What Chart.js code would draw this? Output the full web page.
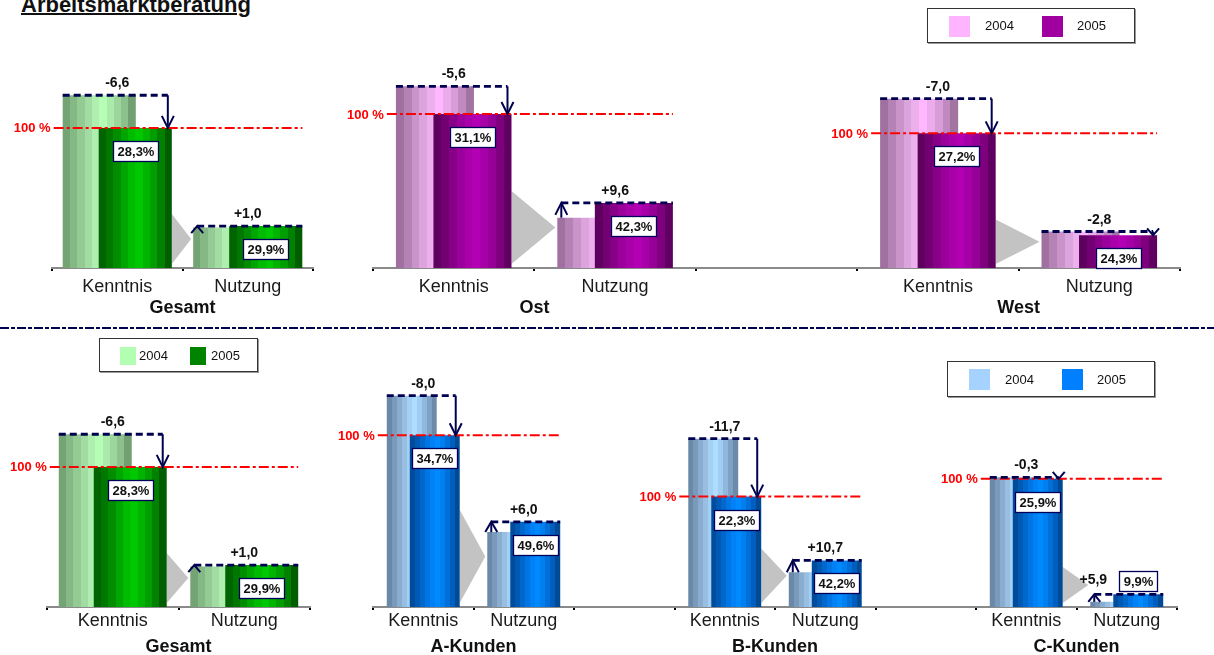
<!DOCTYPE html>
<html lang="de">
<head>
<meta charset="utf-8">
<title>Arbeitsmarktberatung</title>
<script src="https://cdn.jsdelivr.net/npm/chart.js@4.4.1/dist/chart.umd.min.js"></script>
<style>
  html, body { margin: 0; padding: 0; background: #fff; }
  body { width: 1214px; height: 655px; position: relative; overflow: hidden;
         font-family: "Liberation Sans", Arial, sans-serif; color: #111; }
  .box { position: absolute; }
  .box canvas { display: block; }
  h1 { position: absolute; left: 21px; top: -6px; margin: 0; font-size: 22px; line-height: 22px;
       font-weight: bold; text-decoration: underline; text-decoration-thickness: 2px; white-space: nowrap; }
  .sep { position: absolute; left: 0; top: 327px; width: 1214px; height: 2px;
         background: repeating-linear-gradient(90deg, #000050 0 9px, transparent 9px 11px, #000050 11px 15px, transparent 15px 17px); }
  .legend { position: absolute; box-sizing: border-box; border: 1px solid #333; background: #fff;
            box-shadow: 1px 1px 0 #9a9a9a; z-index: 5; }
  .legend .sw { position: absolute; }
  .legend .t { position: absolute; font-size: 13px; line-height: 13px; color: #111; }
</style>
</head>
<body>
<h1>Arbeitsmarktberatung</h1>

<div class="legend" style="left:927px;top:8px;width:208px;height:35px;">
  <span class="sw" style="left:21px;top:7px;width:21px;height:21px;background:#ffb4ff"></span>
  <span class="t" style="left:57px;top:10px">2004</span>
  <span class="sw" style="left:114px;top:7px;width:21px;height:21px;background:#a000a0"></span>
  <span class="t" style="left:149px;top:10px">2005</span>
</div>

<div class="legend" style="left:99px;top:338px;width:159px;height:34px;">
  <span class="sw" style="left:20px;top:8px;width:16px;height:18px;background:#b2ffb2"></span>
  <span class="t" style="left:39px;top:10px">2004</span>
  <span class="sw" style="left:90px;top:8px;width:16px;height:18px;background:#008400"></span>
  <span class="t" style="left:111px;top:10px">2005</span>
</div>

<div class="legend" style="left:947px;top:361px;width:208px;height:36px;">
  <span class="sw" style="left:21px;top:7px;width:21px;height:21px;background:#a6d2ff"></span>
  <span class="t" style="left:57px;top:11px">2004</span>
  <span class="sw" style="left:114px;top:7px;width:21px;height:21px;background:#0080ff"></span>
  <span class="t" style="left:149px;top:11px">2005</span>
</div>

<div class="sep"></div>

<div class="box" style="left:0;top:40px"><canvas id="cRegGesamt" width="330" height="290"></canvas></div>
<div class="box" style="left:330px;top:40px"><canvas id="cRegOstWest" width="884" height="290"></canvas></div>
<div class="box" style="left:0;top:335px"><canvas id="cKdGesamt" width="330" height="320"></canvas></div>
<div class="box" style="left:320px;top:335px"><canvas id="cKdABC" width="894" height="320"></canvas></div>

<script>
// ---- Werte (Anteile in %, Veraenderung 2004 -> 2005 in Prozentpunkten) ----
const regionen = ['Gesamt', 'Ost', 'West'];
const kenntnis2005Regionen = [28.3, 31.1, 27.2];
const kenntnisDeltaRegionen = [-6.6, -5.6, -7.0];
const nutzung2005Regionen = [29.9, 42.3, 24.3];   // Nutzung als Anteil der Kenntnis
const nutzungDeltaRegionen = [1.0, 9.6, -2.8];

const kunden = ['Gesamt', 'A-Kunden', 'B-Kunden', 'C-Kunden'];
const kenntnis2005Kunden = [28.3, 34.7, 22.3, 25.9];
const kenntnisDeltaKunden = [-6.6, -8.0, -11.7, -0.3];
const nutzung2005Kunden = [29.9, 49.6, 42.2, 9.9];
const nutzungDeltaKunden = [1.0, 6.0, 10.7, 5.9];

const kategorien = ['Kenntnis', 'Nutzung'];
const jahre = ['2004', '2005'];
const Y_MAX = 45;

// ---- Farben: streifige Zylinder-Schattierung von links nach rechts ----
const bandsGreen = [
  ['#74a474', '#84b884', '#94ca94', '#a2dca2', '#aeeeae', '#b6fdb6', '#aaeaaa', '#9cd69c', '#8cc08c', '#72a072'],
  ['#006400', '#007800', '#008e00', '#00a600', '#00bc00', '#00c800', '#00b400', '#009e00', '#008200', '#005e00']
];
const bandsPurple = [
  ['#a070a0', '#b482b4', '#ca94ca', '#dca4dc', '#ecb0ec', '#ffb8ff', '#ecacec', '#d89cd8', '#c08ac0', '#a274a2'],
  ['#5e005e', '#720072', '#880088', '#9c009c', '#aa00aa', '#b400b4', '#a800a8', '#960096', '#7e007e', '#600060']
];
const bandsBlue = [
  ['#6a88a8', '#7a9abc', '#8aadcf', '#98bfe2', '#a5d0f4', '#aedeff', '#a0cdf1', '#90b8dc', '#7ea2c5', '#6c8aaa'],
  ['#004c9c', '#005ab4', '#0068cc', '#0076e4', '#0082f6', '#008aff', '#0080f0', '#0070d8', '#005ebe', '#004a96']
];

const NAVY = '#000050';
const FONT = '"Liberation Sans", Arial, sans-serif';
const fmt = v => v.toFixed(1).replace('.', ',');
const fmtDelta = v => (v > 0 ? '+' : '') + fmt(v);

function panel(title, k05, dK, n05, dN, k, n) {
  return { title, k05, dK, k04: +(k05 - dK).toFixed(1), n05, dN, n04: +(n05 - dN).toFixed(1), k, n };
}

function banded(ctx, l, r, colors) {
  const g = ctx.createLinearGradient(l, 0, r, 0);
  const n = colors.length;
  colors.forEach((c, i) => { g.addColorStop(i / n, c); g.addColorStop((i + 1) / n, c); });
  return g;
}

// Veraenderungspfeil zwischen dem 2004- (a) und dem 2005-Balken (b)
function changeArrow(ctx, a, b, text, labelLeft) {
  const aL = a.x - a.width / 2, bR = b.x + b.width / 2;
  const down = b.y > a.y;
  const lineY = down ? a.y : b.y;
  const ax = down ? bR - 4 : aL + 4;
  const dist = Math.abs(b.y - a.y);
  const head = Math.max(7, Math.min(12, dist));
  ctx.save();
  ctx.strokeStyle = NAVY;
  ctx.lineWidth = 2.8;
  ctx.setLineDash([7, 4]);
  ctx.beginPath();
  ctx.moveTo(down ? aL : ax, lineY);
  ctx.lineTo(down ? ax : bR, lineY);
  ctx.stroke();
  ctx.setLineDash([]);
  ctx.lineWidth = 2;
  ctx.beginPath();
  ctx.moveTo(ax, a.y);
  ctx.lineTo(ax, b.y);
  ctx.stroke();
  const dir = down ? -1 : 1;
  ctx.beginPath();
  ctx.moveTo(ax - 6, b.y + dir * head);
  ctx.lineTo(ax, b.y);
  ctx.lineTo(ax + 6, b.y + dir * head);
  ctx.stroke();
  ctx.fillStyle = '#111';
  ctx.font = `bold 14px ${FONT}`;
  ctx.textAlign = 'center';
  ctx.textBaseline = 'alphabetic';
  if (labelLeft) ctx.fillText(text, aL + 3, lineY - 10);
  else ctx.fillText(text, (aL + bR) / 2, lineY - 8);
  ctx.restore();
}

function valueBox(ctx, el, text, above) {
  ctx.save();
  ctx.font = `bold 13px ${FONT}`;
  const w = Math.round(ctx.measureText(text).width + 8), h = 20;
  const cx = el.x;
  const top = above ? el.y - h - 3 : el.y + 13;
  const left = Math.round(cx - w / 2) + 0.5, t = Math.round(top) + 0.5;
  ctx.fillStyle = '#fff';
  ctx.fillRect(left, t, w, h);
  ctx.strokeStyle = '#00005a';
  ctx.lineWidth = 1.3;
  ctx.strokeRect(left, t, w, h);
  ctx.fillStyle = '#111';
  ctx.textAlign = 'center';
  ctx.textBaseline = 'middle';
  ctx.fillText(text, left + w / 2, t + h / 2 + 1);
  ctx.restore();
}

const deko = {
  id: 'deko',
  // 2005 is painted in front of 2004: skip its regular turn and draw it right after 2004
  beforeDatasetDraw(chart, args) {
    if (args.index === 1 && !chart.$front) return false;
  },
  afterDatasetDraw(chart, args) {
    if (args.index === 0) {
      chart.$front = true;
      chart.getDatasetMeta(1).controller.draw();
      chart.$front = false;
    }
  },
  beforeDatasetsDraw(chart, args, opts) {
    const ctx = chart.ctx;
    [0, 1].forEach(di => {
      const meta = chart.getDatasetMeta(di);
      meta.data.forEach((el, i) => {
        if (chart.data.datasets[di].data[i] == null) return;
        const l = el.x - el.width / 2, r = el.x + el.width / 2;
        el.options = Object.assign({}, el.options, { backgroundColor: banded(ctx, l, r, opts.bands[di]) });
      });
    });
    // grey chevron leading from Kenntnis to Nutzung
    const m0 = chart.getDatasetMeta(0).data, m1 = chart.getDatasetMeta(1).data;
    ctx.save();
    ctx.fillStyle = '#c3c3c3';
    opts.panels.forEach(p => {
      const k05 = m1[p.k], n04 = m0[p.n], n05 = m1[p.n];
      const x0 = k05.x + k05.width / 2, x1 = n04.x - n04.width / 2 - 2;
      const bottom = k05.base - 4;
      let top = Math.min(n04.y, n05.y) - 12;
      if (bottom - top < 36) top = bottom - 36;
      ctx.beginPath();
      ctx.moveTo(x0, top);
      ctx.lineTo(x1, (top + bottom) / 2);
      ctx.lineTo(x0, bottom);
      ctx.closePath();
      ctx.fill();
    });
    ctx.restore();
  },
  afterDatasetsDraw(chart, args, opts) {
    const ctx = chart.ctx;
    const m0 = chart.getDatasetMeta(0).data, m1 = chart.getDatasetMeta(1).data;
    opts.panels.forEach(p => {
      const k04 = m0[p.k], k05 = m1[p.k], n04 = m0[p.n], n05 = m1[p.n];
      // 100 % reference = awareness level 2005
      const lx0 = k04.x - k04.width / 2 - 9, lx1 = n05.x + n05.width / 2;
      ctx.save();
      ctx.strokeStyle = '#ff0000';
      ctx.lineWidth = 2;
      ctx.setLineDash([10, 3, 3, 3]);
      ctx.beginPath();
      ctx.moveTo(lx0, k05.y);
      ctx.lineTo(lx1, k05.y);
      ctx.stroke();
      ctx.setLineDash([]);
      ctx.fillStyle = '#ff0000';
      ctx.font = `bold 13px ${FONT}`;
      ctx.textAlign = 'right';
      ctx.textBaseline = 'middle';
      ctx.fillText('100 %', lx0 - 3, k05.y + 1);
      ctx.restore();

      const nLow = n05.base - n05.y < 30;
      changeArrow(ctx, k04, k05, fmtDelta(p.dK), false);
      changeArrow(ctx, n04, n05, fmtDelta(p.dN), nLow);
      valueBox(ctx, k05, fmt(p.k05) + '%', false);
      valueBox(ctx, n05, fmt(p.n05) + '%', nLow);
    });
  },
  afterDraw(chart, args, opts) {
    const ctx = chart.ctx, x = chart.scales.x;
    ctx.save();
    ctx.fillStyle = '#111';
    ctx.font = `bold 18px ${FONT}`;
    ctx.textAlign = 'center';
    ctx.textBaseline = 'alphabetic';
    opts.panels.forEach(p => {
      const cx = (x.getPixelForValue(p.k) + x.getPixelForValue(p.n)) / 2;
      ctx.fillText(p.title, cx, chart.chartArea.bottom + 45);
    });
    ctx.restore();
  }
};

function build(id, labels, panels, bands, geo) {
  const v2004 = labels.map(() => null), v2005 = labels.map(() => null);
  panels.forEach(p => {
    v2004[p.k] = p.k04;
    v2005[p.k] = p.k05;
    // Nutzung is a share of those aware: drawn relative to the 100 % line
    v2004[p.n] = p.n04 * p.k05 / 100;
    v2005[p.n] = p.n05 * p.k05 / 100;
  });
  return new Chart(document.getElementById(id), {
    type: 'bar',
    data: {
      labels,
      datasets: [
        { label: jahre[0], data: v2004, categoryPercentage: geo.cat, barPercentage: geo.bar, borderWidth: 0 },
        { label: jahre[1], data: v2005, categoryPercentage: geo.cat, barPercentage: geo.bar, borderWidth: 0 }
      ]
    },
    options: {
      responsive: false,
      animation: false,
      events: [],
      layout: { padding: { left: geo.left, right: geo.right, top: geo.top, bottom: 0 } },
      plugins: {
        legend: { display: false },
        tooltip: { enabled: false },
        deko: { panels, bands }
      },
      scales: {
        x: {
          z: 1,
          grid: { display: true, drawOnChartArea: false, drawTicks: true, offset: true,
                  tickLength: 3, color: '#000', lineWidth: 2 },
          border: { display: true, color: '#8a8a8a', width: 2 },
          ticks: { color: '#1a1a1a', font: { family: FONT, size: 18 }, padding: geo.pad,
                   maxRotation: 0, autoSkip: false },
          afterFit(scale) { scale.height = geo.axisH; }
        },
        y: { display: false, min: 0, max: Y_MAX }
      }
    },
    plugins: [deko]
  });
}

const [K, N] = kategorien;
const reg = i => panel(regionen[i], kenntnis2005Regionen[i], kenntnisDeltaRegionen[i],
                       nutzung2005Regionen[i], nutzungDeltaRegionen[i], 0, 1);
const kd = i => panel(kunden[i], kenntnis2005Kunden[i], kenntnisDeltaKunden[i],
                      nutzung2005Kunden[i], nutzungDeltaKunden[i], 0, 1);

build('cRegGesamt', [K, N], [reg(0)], bandsGreen,
      { left: 52, right: 17, top: 5.25, axisH: 62, pad: 5, cat: 0.552, bar: 2.03 });
build('cRegOstWest', [K, N, '', K, N],
      [Object.assign(reg(1), { k: 0, n: 1 }), Object.assign(reg(2), { k: 3, n: 4 })], bandsPurple,
      { left: 43, right: 34, top: 5.25, axisH: 62, pad: 5, cat: 0.465, bar: 2.08 });
build('cKdGesamt', [K, N], [kd(0)], bandsGreen,
      { left: 47, right: 20, top: 49.25, axisH: 48, pad: 0, cat: 0.532, bar: 2.086 });
build('cKdABC', [K, N, '', K, N, '', K, N],
      [Object.assign(kd(1), { k: 0, n: 1 }), Object.assign(kd(2), { k: 3, n: 4 }), Object.assign(kd(3), { k: 6, n: 7 })],
      bandsBlue,
      { left: 53, right: 37, top: 49.25, axisH: 48, pad: 0, cat: 0.458, bar: 2.17 });
</script>
</body>
</html>
